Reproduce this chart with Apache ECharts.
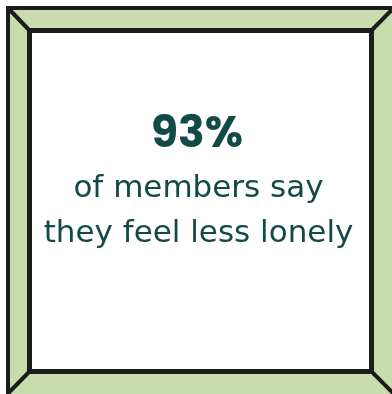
<!DOCTYPE html>
<html><head><meta charset="utf-8">
<script src="https://cdn.jsdelivr.net/npm/echarts@6/dist/echarts.min.js"></script>
<style>html,body{margin:0;padding:0;background:#fff}#c{width:392px;height:394px}</style>
</head><body><div id="c"></div>
<script>
const statValue = ["93%"];
const statLines = ["of members say", "they feel less lonely"];

const chart = echarts.init(document.getElementById('c'), null, {renderer: 'canvas'});
const dark = '#1c1c1c', green = '#c9dcab', teal = '#124a47';
const boldFont = 'Poppins, Inter, "Noto Sans", sans-serif';
const font = '"DejaVu Sans", sans-serif';
const els = [
  {type:'rect', shape:{x:8,y:8,width:388,height:388}, style:{fill:green, stroke:dark, lineWidth:4}},
  {type:'rect', shape:{x:29.5,y:30.5,width:342,height:341}, style:{fill:'#ffffff', stroke:dark, lineWidth:5}},
  {type:'line', shape:{x1:8,y1:8,x2:29.5,y2:30.5}, style:{stroke:dark, lineWidth:4}},
  {type:'line', shape:{x1:393.5,y1:8,x2:371.5,y2:30.5}, style:{stroke:dark, lineWidth:4}},
  {type:'line', shape:{x1:8,y1:393.5,x2:29.5,y2:371.5}, style:{stroke:dark, lineWidth:4}},
  {type:'line', shape:{x1:396,y1:396,x2:371.5,y2:371.5}, style:{stroke:dark, lineWidth:4}},
  {type:'text', x:197, y:136, style:{text:statValue[0], fill:teal, font:'bold 44px ' + boldFont, textAlign:'center', textVerticalAlign:'middle'}},
  {type:'text', x:198.5, y:189, style:{text:statLines[0], fill:teal, font:'31px ' + font, textAlign:'center', textVerticalAlign:'middle'}},
  {type:'text', x:198.5, y:234, style:{text:statLines[1], fill:teal, font:'31px ' + font, textAlign:'center', textVerticalAlign:'middle'}}
];
chart.setOption({animation:false, graphic:{elements:els}});
</script>
</body></html>
